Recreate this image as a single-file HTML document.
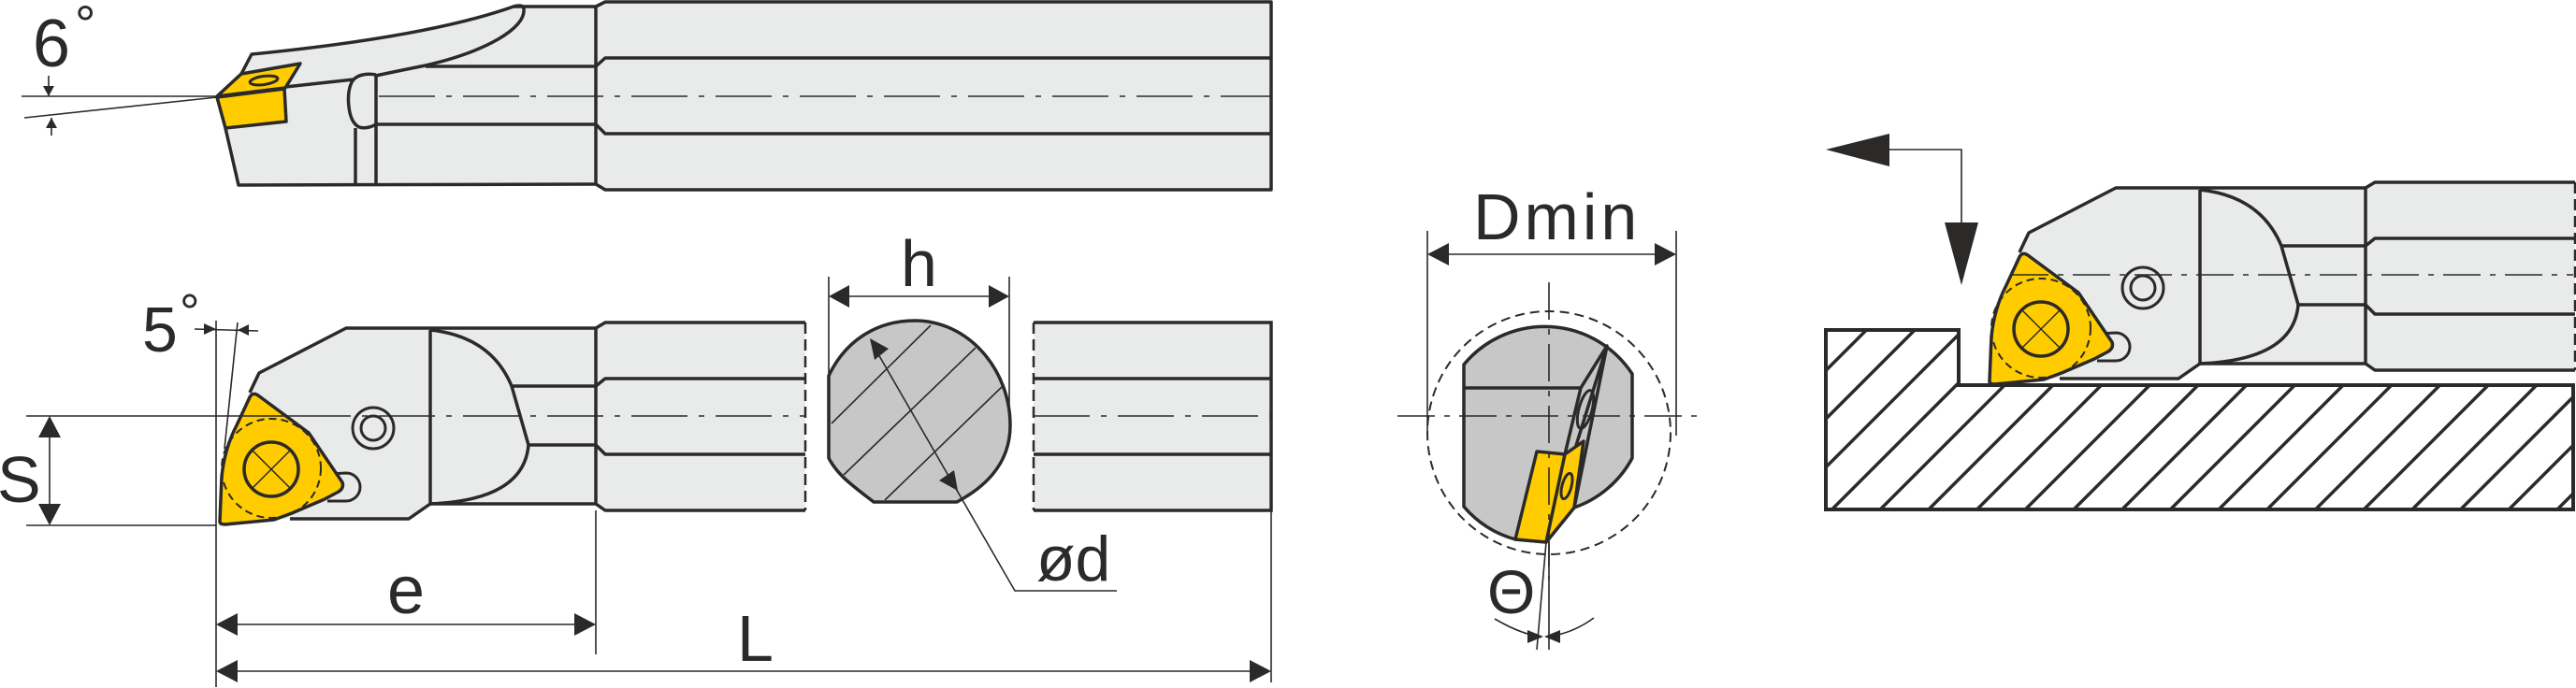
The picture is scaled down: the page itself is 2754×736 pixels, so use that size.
<!DOCTYPE html>
<html><head><meta charset="utf-8"><style>
html,body{margin:0;padding:0;background:#fff;}
svg{display:block;}
text{font-family:"Liberation Sans",sans-serif;fill:#2b2a29;}
</style></head><body>
<svg width="2754" height="736" viewBox="0 0 2754 736" xmlns="http://www.w3.org/2000/svg">
<defs>
<g id="tool">
  <path d="M262,430 L277,399 L370,351 L637,351 L647,345 L861,345 L861,546 L647,546 L637,539 L460,539 L437,555 L300,555 Z" fill="#e9ebea"/>
  <g fill="none" stroke="#2b2a29" stroke-width="3.5" stroke-linejoin="round">
    <path d="M267,420 L277,399 L370,351 L637,351 L647,345 L861,345"/>
    <path d="M637,351 L637,539"/>
    <path d="M547,413 L637,413 L647,405 L861,405"/>
    <path d="M565,476 L637,476 L647,486 L861,486"/>
    <path d="M310,555 L437,555 L460,539 L637,539 L647,546 L861,546"/>
    <path d="M460,353 L460,539"/>
    <path d="M460,353 Q525,360 547,413 L565,476 Q560,535 460,539"/>
    <circle cx="399" cy="458" r="22" stroke-width="3"/>
    <circle cx="399" cy="458" r="13" stroke-width="3"/>
    <path d="M352,507 L370,506 A15,15 0 0 1 370,536 L350,536" fill="#e9ebea" stroke-width="3"/>
  </g>
  <path d="M861,345 L861,546" stroke="#2b2a29" stroke-width="2.5" stroke-dasharray="12 6" fill="none"/>
  <path d="M235,558 L237,510 Q240,480 253,455 L267,425 Q270,419 276,423 L330,463 L366,516 Q368,522 362,526 L347,534 L312,549 L293,556 L241,561 Q235,561 235,558 Z" fill="#ffcc00" stroke="#2b2a29" stroke-width="3.5" stroke-linejoin="round"/>
  <circle cx="290" cy="501" r="53" fill="none" stroke="#2b2a29" stroke-width="2" stroke-dasharray="8 5"/>
  <circle cx="290" cy="502" r="29" fill="none" stroke="#2b2a29" stroke-width="3.5"/>
  <path d="M270,482 L310,522 M310,482 L270,522" stroke="#2b2a29" stroke-width="1.5"/>
</g>
<clipPath id="wp"><path d="M1952,353 L2094,353 L2094,412 L2751,412 L2751,545 L1952,545 Z"/></clipPath>
</defs>

<!-- TOP VIEW -->
<path d="M241,137 L232,103 L258,79 L269,58 C350,50 470,35 549,7 L637,7 L647,2 L1359,2 L1359,203 L647,203 L637,197 L255,198 Z" fill="#e9ebea"/>
<g fill="none" stroke="#2b2a29" stroke-width="3.5" stroke-linejoin="round">
  <path d="M258,79 L269,58 C350,50 470,35 549,7 Q560,4 560,10 C562,30 520,55 455,70 C430,75 415,78 402,81"/>
  <path d="M549,7 L637,7 L647,2 L1359,2 L1359,203 L647,203 L637,197 L255,198 L241,137"/>
  <path d="M637,7 L637,197"/>
  <path d="M455,71 L637,71 L647,62 L1359,62"/>
  <path d="M402,133 L637,133 L647,143 L1359,143"/>
  <path d="M305,93 L378,85"/>
  <path d="M402,80 C392,78 380,80 376,88 C370,100 372,125 380,133 C385,139 395,137 402,133"/>
  <path d="M380,137 L380,198 M402,80 L402,198"/>
</g>
<path d="M232,103 L258,79 L321,68 L305,94 Z" fill="#ffcc00" stroke="#2b2a29" stroke-width="3.5" stroke-linejoin="round"/>
<path d="M232,104 L304,95 L306,130 L241,137 Z" fill="#ffcc00" stroke="#2b2a29" stroke-width="3.5" stroke-linejoin="round"/>
<ellipse cx="282" cy="86" rx="15" ry="4.5" transform="rotate(-8 282 86)" fill="none" stroke="#2b2a29" stroke-width="3"/>
<path d="M405,103 L1359,103" stroke="#2b2a29" stroke-width="1.6" stroke-dasharray="60 12 6 12"/>
<g stroke="#2b2a29" stroke-width="1.6" fill="none">
  <path d="M23,103 L232,103"/>
  <path d="M26,126 L232,104"/>
  <path d="M52,81 L52,103 M55,126 L55,145"/>
</g>
<path d="M46,92 L58,92 L52,103 Z M49,137 L61,137 L55,126 Z" fill="#2b2a29"/>
<text x="35" y="71" font-size="72">6</text>
<text x="80" y="45" font-size="56">°</text>

<!-- SIDE VIEW -->
<use href="#tool"/>
<path d="M1105,345 L1359,345 L1359,546 L1105,546 Z" fill="#e9ebea"/>
<g fill="none" stroke="#2b2a29" stroke-width="3.5">
  <path d="M1105,345 L1359,345 L1359,546 L1105,546 M1105,405 L1359,405 M1105,486 L1359,486"/>
</g>
<path d="M1105,345 L1105,546" stroke="#2b2a29" stroke-width="2.5" stroke-dasharray="12 6"/>
<path d="M28,445 L315,445" stroke="#2b2a29" stroke-width="1.6"/>
<path d="M315,445 L861,445 M1105,445 L1359,445" stroke="#2b2a29" stroke-width="1.6" stroke-dasharray="60 12 6 12"/>
<g stroke="#2b2a29" stroke-width="1.6" fill="none">
  <path d="M28,562 L231,562"/>
  <path d="M53,462 L53,545"/>
  <path d="M231,343 L231,735"/>
  <path d="M254,345 L240,480"/>
  <path d="M208,352 L276,354"/>
  <path d="M637,546 L637,700"/>
  <path d="M1359,546 L1359,730"/>
  <path d="M250,668 L620,668"/>
  <path d="M250,718 L1340,718"/>
</g>
<path d="M53,445 L41,468 L65,468 Z M53,562 L41,539 L65,539 Z" fill="#2b2a29"/>
<path d="M231,352 L218,346 L218,358 Z M254,353 L266,347 L266,359 Z" fill="#2b2a29"/>
<path d="M231,668 L254,656 L254,680 Z M637,668 L614,656 L614,680 Z" fill="#2b2a29"/>
<path d="M231,718 L254,706 L254,730 Z M1359,718 L1336,706 L1336,730 Z" fill="#2b2a29"/>
<text x="152" y="376" font-size="68">5</text>
<text x="192" y="352" font-size="54">°</text>
<text x="-3" y="537" font-size="70">S</text>
<text x="414" y="656" font-size="72">e</text>
<text x="788" y="707" font-size="70">L</text>

<!-- section circle -->
<path d="M886,490 L886,402 C905,362 940,343 978,343 C1035,343 1080,395 1080,455 C1080,495 1055,520 1023,537 L934,537 C912,520 895,508 886,490 Z" fill="#c6c7c6" stroke="#2b2a29" stroke-width="3.5" stroke-linejoin="round"/>
<g stroke="#2b2a29" stroke-width="1.6" fill="none">
  <path d="M995,348 L889,453 M1043,372 L902,508 M1072,413 L946,535"/>
  <path d="M935,372 L1085,632 L1194,632"/>
  <path d="M886,296 L886,400 M1079,296 L1079,440"/>
  <path d="M905,317 L1060,317"/>
</g>
<path d="M930,362 L935,385 L950,373 Z M1024,525 L1020,503 L1004,514 Z" fill="#2b2a29"/>
<path d="M886,317 L908,305 L908,329 Z M1079,317 L1057,305 L1057,329 Z" fill="#2b2a29"/>
<text x="963" y="306" font-size="70">h</text>
<text x="1108" y="621" font-size="68">ød</text>

<!-- DMIN VIEW -->
<circle cx="1656" cy="463" r="130" fill="none" stroke="#2b2a29" stroke-width="2" stroke-dasharray="10 6"/>
<path d="M1565,390 A112,112 0 0 1 1745,400 L1745,490 A112,112 0 0 1 1683,543 L1653,580 L1620,577 A112,112 0 0 1 1565,542 Z" fill="#c6c7c6" stroke="#2b2a29" stroke-width="3.5" stroke-linejoin="round"/>
<g stroke="#2b2a29" stroke-width="3.5" fill="none" stroke-linejoin="round">
  <path d="M1565,415 L1690,415 L1718,370 L1653,580"/>
  <path d="M1718,370 L1683,543"/>
  <path d="M1690,415 L1673,486"/>
</g>
<path d="M1643,483 L1673,486 L1693,472 L1683,543 L1653,580 L1620,577 Z" fill="#ffcc00" stroke="#2b2a29" stroke-width="3.5" stroke-linejoin="round"/>
<path d="M1673,486 L1653,580" stroke="#2b2a29" stroke-width="3.5"/>
<ellipse cx="1695" cy="438" rx="7" ry="21" transform="rotate(15 1695 438)" fill="none" stroke="#2b2a29" stroke-width="3"/>
<ellipse cx="1675" cy="520" rx="5" ry="14" transform="rotate(15 1675 520)" fill="none" stroke="#2b2a29" stroke-width="3"/>
<g stroke="#2b2a29" stroke-width="1.6" fill="none">
  <path d="M1494,445 L1824,445" stroke-dasharray="40 10 6 10"/>
  <path d="M1656,302 L1656,620" stroke-dasharray="40 10 6 10"/>
  <path d="M1526,247 L1526,466 M1792,247 L1792,466"/>
  <path d="M1545,272 L1773,272"/>
  <path d="M1656,580 L1656,695 M1653,580 L1643,695"/>
  <path d="M1598,662 Q1620,675 1640,680 M1704,661 Q1685,675 1662,680"/>
</g>
<path d="M1526,272 L1549,260 L1549,284 Z M1792,272 L1769,260 L1769,284 Z" fill="#2b2a29"/>
<path d="M1650,681 L1633,674 L1633,688 Z M1651,681 L1668,674 L1668,688 Z" fill="#2b2a29"/>
<text x="1575" y="256" font-size="70" letter-spacing="4">Dmin</text>
<text x="1590" y="656" font-size="66">Θ</text>

<!-- RIGHT VIEW -->
<path d="M1952,353 L2094,353 L2094,412 L2751,412 L2751,545 L1952,545 Z" fill="#fff"/>
<g clip-path="url(#wp)" stroke="#2b2a29" stroke-width="3.5">
  <path d="M1700,545 L2000,245 M1751.7,545 L2051.7,245 M1803.4,545 L2103.4,245 M1855.1,545 L2155.1,245 M1906.8,545 L2206.8,245 M1958.5,545 L2258.5,245 M2010.2,545 L2310.2,245 M2061.9,545 L2361.9,245 M2113.6,545 L2413.6,245 M2165.3,545 L2465.3,245 M2217,545 L2517,245 M2268.7,545 L2568.7,245 M2320.4,545 L2620.4,245 M2372.1,545 L2672.1,245 M2423.8,545 L2723.8,245 M2475.5,545 L2775.5,245 M2527.2,545 L2827.2,245 M2578.9,545 L2878.9,245 M2630.6,545 L2930.6,245 M2682.3,545 L2982.3,245 M2734,545 L3034,245"/>
</g>
<path d="M1952,353 L2094,353 L2094,412 L2751,412 L2751,545 L1952,545 Z" fill="none" stroke="#2b2a29" stroke-width="4"/>
<use href="#tool" transform="translate(1892,-150)"/>
<path d="M2150,294 L2751,294" stroke="#2b2a29" stroke-width="1.6" stroke-dasharray="40 10 6 10"/>
<path d="M2020,160 L2097,160 L2097,240" fill="none" stroke="#2b2a29" stroke-width="1.6"/>
<path d="M1952,160 L2020,143 L2020,178 Z M2097,305 L2079,238 L2115,238 Z" fill="#2b2a29"/>
</svg>
</body></html>
